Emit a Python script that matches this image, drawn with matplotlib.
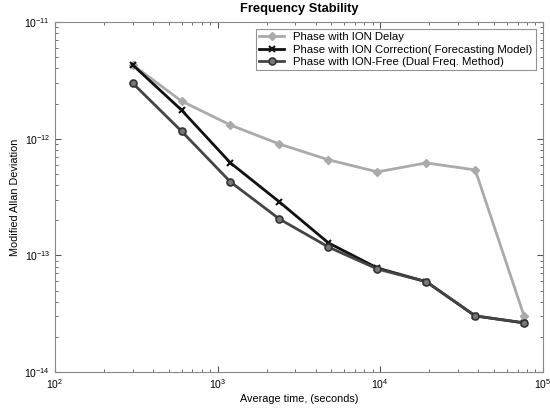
import matplotlib
matplotlib.use("Agg")
import matplotlib.pyplot as plt
from matplotlib.ticker import LogLocator, NullFormatter

plt.rcParams['font.family'] = ['Liberation Sans', 'DejaVu Sans']

tau = [300, 600, 1200, 2400, 4800, 9600, 19200, 38400, 76800]
ion_delay = [4.3e-12, 2.1e-12, 1.31e-12, 9.0e-13, 6.6e-13, 5.2e-13, 6.2e-13, 5.4e-13, 3.0e-14]
ion_corr = [4.3e-12, 1.76e-12, 6.2e-13, 2.87e-13, 1.28e-13, 7.8e-14, 5.95e-14, 3.03e-14, 2.64e-14]
ion_free = [3.0e-12, 1.16e-12, 4.26e-13, 2.05e-13, 1.18e-13, 7.65e-14, 5.95e-14, 3.03e-14, 2.64e-14]
xticks = [1e2, 1e3, 1e4, 1e5]
yticks = [1e-14, 1e-13, 1e-12, 1e-11]
labels = ["Phase with ION Delay",
          "Phase with ION Correction( Forecasting Model)",
          "Phase with ION-Free (Dual Freq. Method)"]

fig = plt.figure(figsize=(5.5, 4.08), dpi=100)
ax = fig.add_axes([0.1, 0.088, 0.887, 0.858])

ax.plot(tau, ion_delay, color='#aaaaaa', lw=2, marker='D', ms=4,
        mfc='#aaaaaa', mec='#aaaaaa', label=labels[0])
ax.plot(tau, ion_corr, color='#111111', lw=2, marker='x', ms=4,
        mew=1.5, label=labels[1])
ax.plot(tau, ion_free, color='#444444', lw=2, marker='o', ms=5,
        mfc='#777777', mec='#333333', mew=1.2, label=labels[2])

ax.set_xscale('log')
ax.set_yscale('log')
ax.set_xlim(xticks[0], xticks[-1])
ax.set_ylim(yticks[0], yticks[-1])
ax.set_xticks(xticks)
ax.set_yticks(yticks)
ax.xaxis.set_minor_locator(LogLocator(base=10, subs=range(2, 10)))
ax.yaxis.set_minor_locator(LogLocator(base=10, subs=range(2, 10)))
ax.xaxis.set_minor_formatter(NullFormatter())
ax.yaxis.set_minor_formatter(NullFormatter())

ax.set_title("Frequency Stability", fontsize=9.3, fontweight='bold', pad=7)
ax.set_xlabel("Average time, (seconds)", fontsize=7.8, labelpad=2)
ax.set_ylabel("Modified Allan Deviation", fontsize=7.8)
ax.yaxis.set_label_coords(-0.072, 0.5)

for s in ax.spines.values():
    s.set_color('#888888')
ax.tick_params(which='both', direction='in', top=True, right=True,
               colors='#555555', labelcolor='black', labelsize=7.5)
ax.tick_params(which='major', length=4)
ax.tick_params(which='minor', length=2)

leg = ax.legend(loc='upper right', fontsize=8.2, frameon=True, fancybox=False,
                edgecolor='#777777', borderaxespad=0.6, handlelength=2.2,
                labelspacing=0.2, borderpad=0.3)
leg.get_frame().set_linewidth(0.8)

fig.savefig("out.png", dpi=100)
